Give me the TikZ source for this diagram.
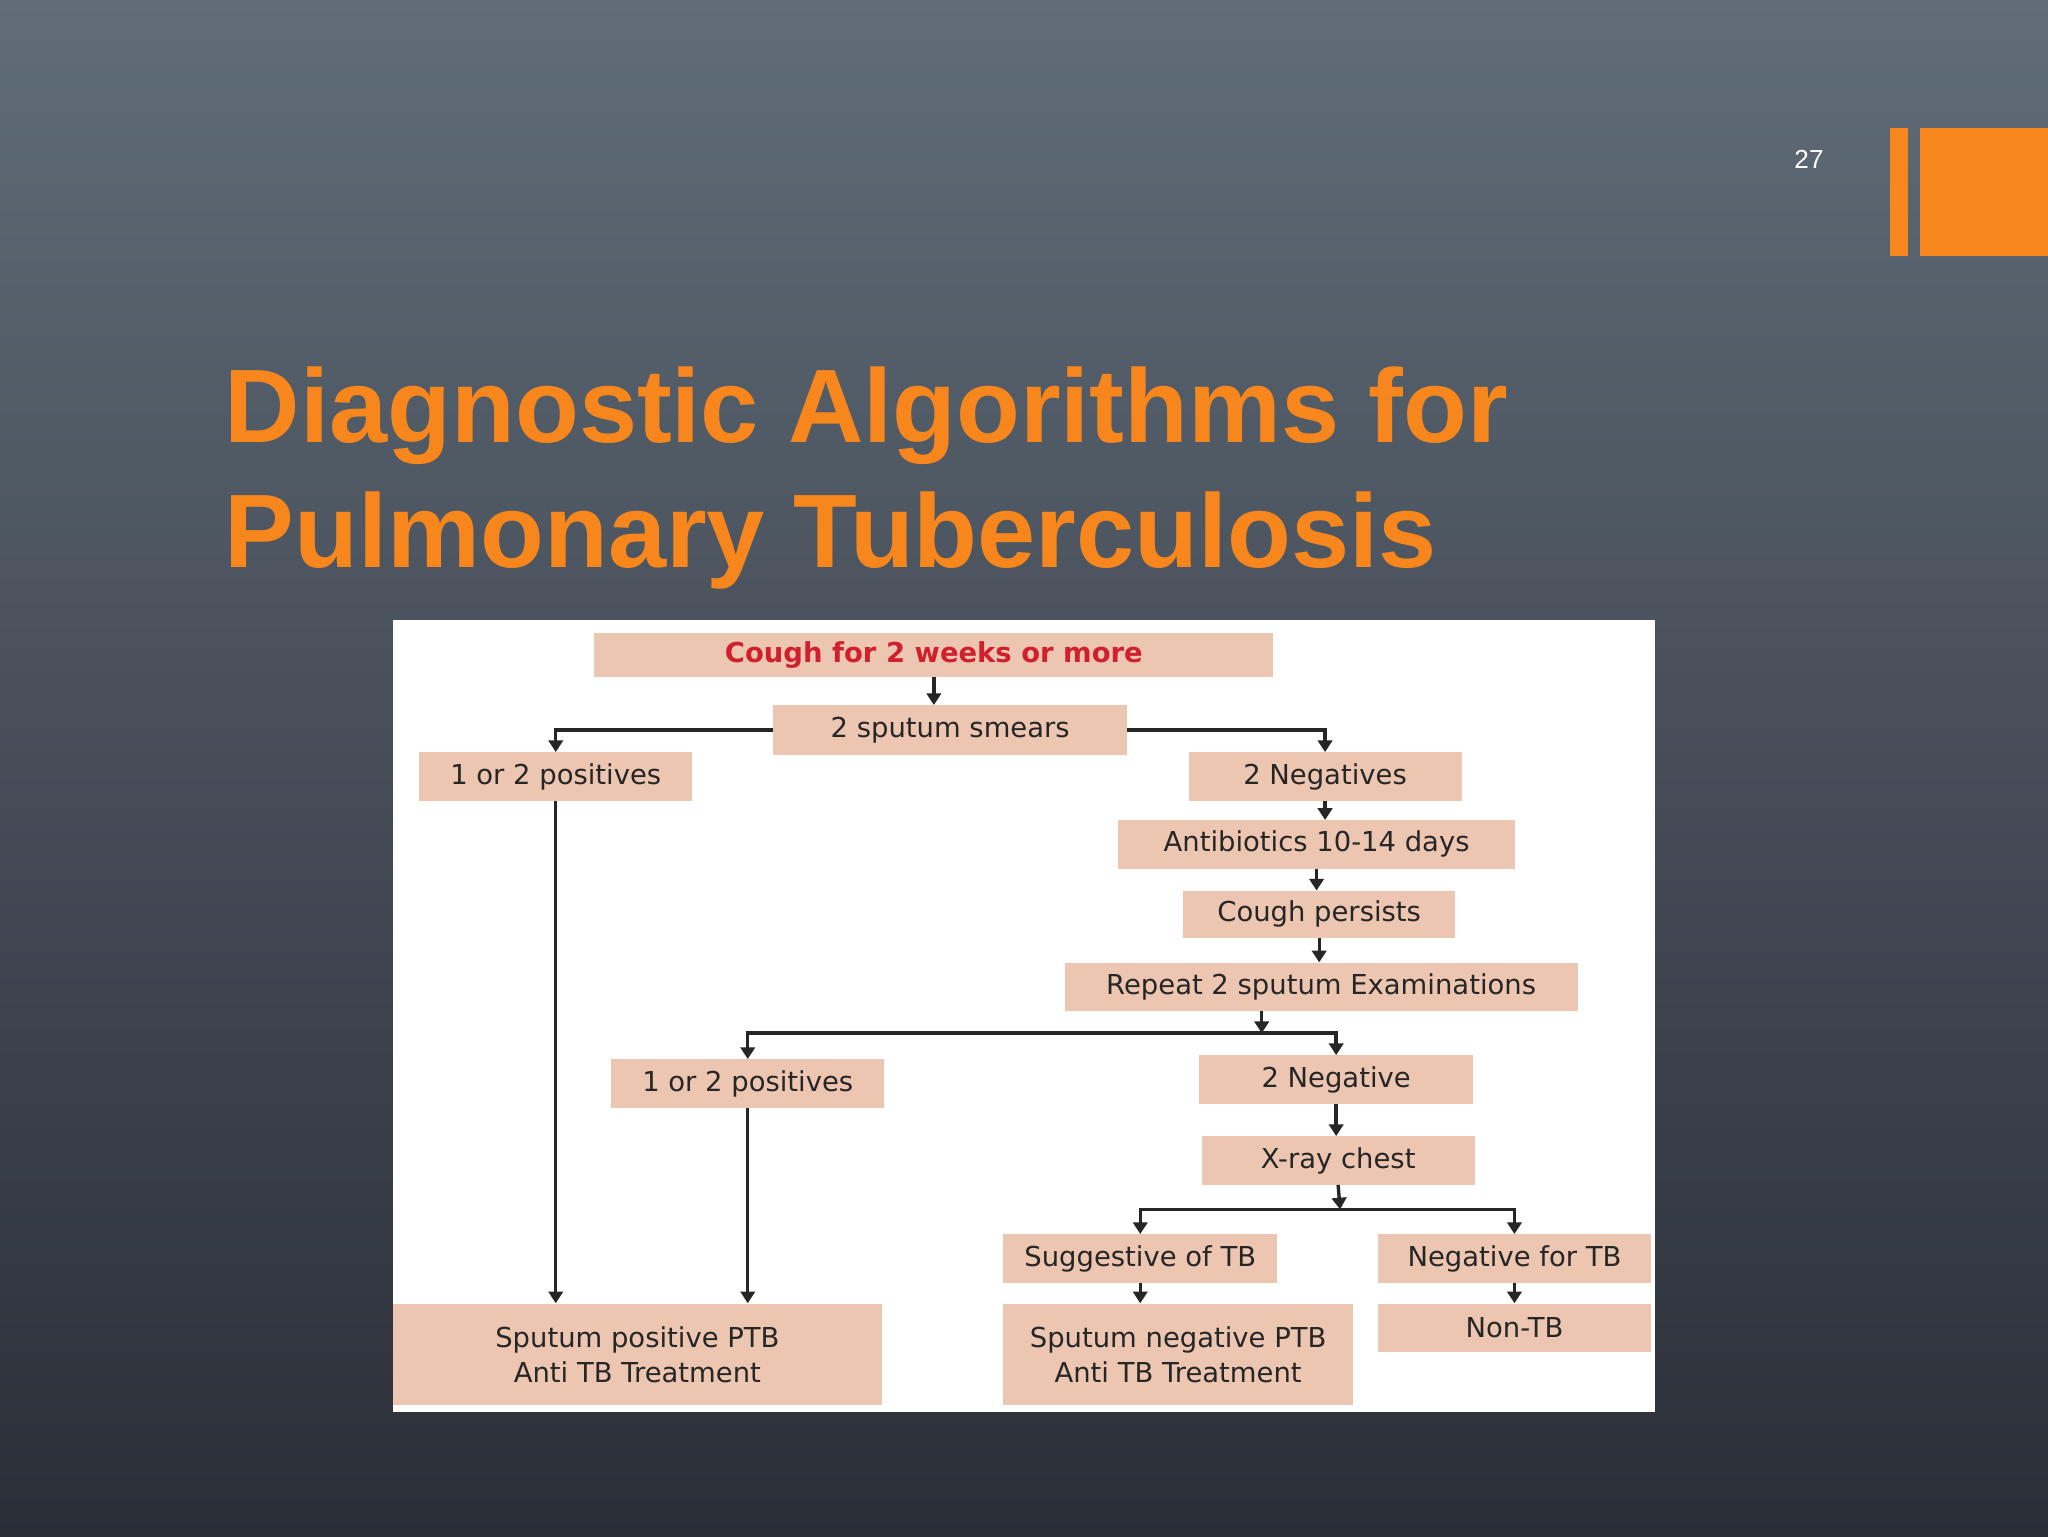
\documentclass[tikz,border=0pt]{standalone}
\usepackage{fontspec}
\setmainfont{DejaVu Sans}
\newfontfamily\titlefont{Liberation Sans}
\usetikzlibrary{arrows.meta}
\definecolor{org}{HTML}{F7861C}
\definecolor{peach}{HTML}{ECC6B0}
\definecolor{cred}{HTML}{D0202E}
\tikzset{
 box/.style={fill=peach,inner sep=0pt,font=\fontsize{21}{27}\selectfont,text=black!85},
 arr/.style={draw=black!85,line width=2.6pt,-{Triangle[length=9pt,width=11pt]}},
 ln/.style={draw=black!85,line width=2.6pt}
}
\newcommand{\bx}[6]{\node[box,minimum width={#4-#2},minimum height={#5-#3},align=center] (#1) at ({(#2+#4)/2},{(#3+#5)/2}) {#6};}
\begin{document}
\begin{tikzpicture}[x=1pt,y=-1pt]
\useasboundingbox (0,0) rectangle (1568,1176);
\shade[top color={rgb,255:red,96;green,108;blue,120},bottom color={rgb,255:red,42;green,46;blue,55}] (0,0) rectangle (1568,1176);
\fill[org] (1447,98) rectangle (1461,196);
\fill[org] (1470,98) rectangle (1568,196);
\node[text=white,font=\titlefont\fontsize{20}{24}\selectfont] (num) at (1385,122) {27};
\node[anchor=west,text=org,font=\titlefont\bfseries\fontsize{80}{96}\selectfont,align=left,inner sep=0pt] (title) at (172,366) {Diagnostic Algorithms for\\Pulmonary Tuberculosis};
\fill[white] (301,475) rectangle (1267,1081);
\bx{cough}{455}{485}{975}{518}{\textcolor{cred}{\bfseries Cough for 2 weeks or more}}
\bx{smears}{592}{540}{863}{578}{2 sputum smears}
\bx{pos1}{321}{576}{530}{613}{1 or 2 positives}
\bx{neg1}{910}{576}{1119}{613}{2 Negatives}
\bx{abx}{856}{628}{1160}{665}{Antibiotics 10-14 days}
\bx{persist}{906}{682}{1114}{718}{Cough persists}
\bx{repeat}{815}{737}{1208}{774}{Repeat 2 sputum Examinations}
\bx{pos2}{468}{811}{677}{848}{1 or 2 positives}
\bx{neg2}{918}{808}{1128}{845}{2 Negative}
\bx{xray}{920}{870}{1129}{907}{X-ray chest}
\bx{sugg}{768}{945}{978}{982}{Suggestive of TB}
\bx{negtb}{1055}{945}{1264}{982}{Negative for TB}
\bx{ptbpos}{301}{998}{675}{1076}{Sputum positive PTB\\Anti TB Treatment}
\bx{ptbneg}{768}{998}{1036}{1076}{Sputum negative PTB\\Anti TB Treatment}
\bx{nontb}{1055}{998}{1264}{1035}{Non-TB}
\coordinate (j1) at (966,791);
\coordinate (j2) at (1026,926);
\draw[arr] (cough.south) -- (cough.south |- smears.north);
\draw[arr] (smears.west) -| (pos1.north);
\draw[arr] (smears.east) -| (neg1.north);
\draw[arr] (neg1.south) -- (neg1.south |- abx.north);
\draw[arr] (abx.south) -- (abx.south |- persist.north);
\draw[arr] (persist.south) -- (persist.south |- repeat.north);
\draw[arr] (j1 |- repeat.south) -- (j1);
\draw[arr] (j1) -| (pos2.north);
\draw[arr] (j1) -| (neg2.north);
\draw[arr] (pos1.south) -- (pos1.south |- ptbpos.north);
\draw[arr] (pos2.south) -- (pos2.south |- ptbpos.north);
\draw[arr] (neg2.south) -- (neg2.south |- xray.north);
\draw[arr] (xray.south) -- (j2);
\draw[arr] (j2) -| (sugg.north);
\draw[arr] (j2) -| (negtb.north);
\draw[arr] (sugg.south) -- (sugg.south |- ptbneg.north);
\draw[arr] (negtb.south) -- (negtb.south |- nontb.north);
\end{tikzpicture}
\end{document}
